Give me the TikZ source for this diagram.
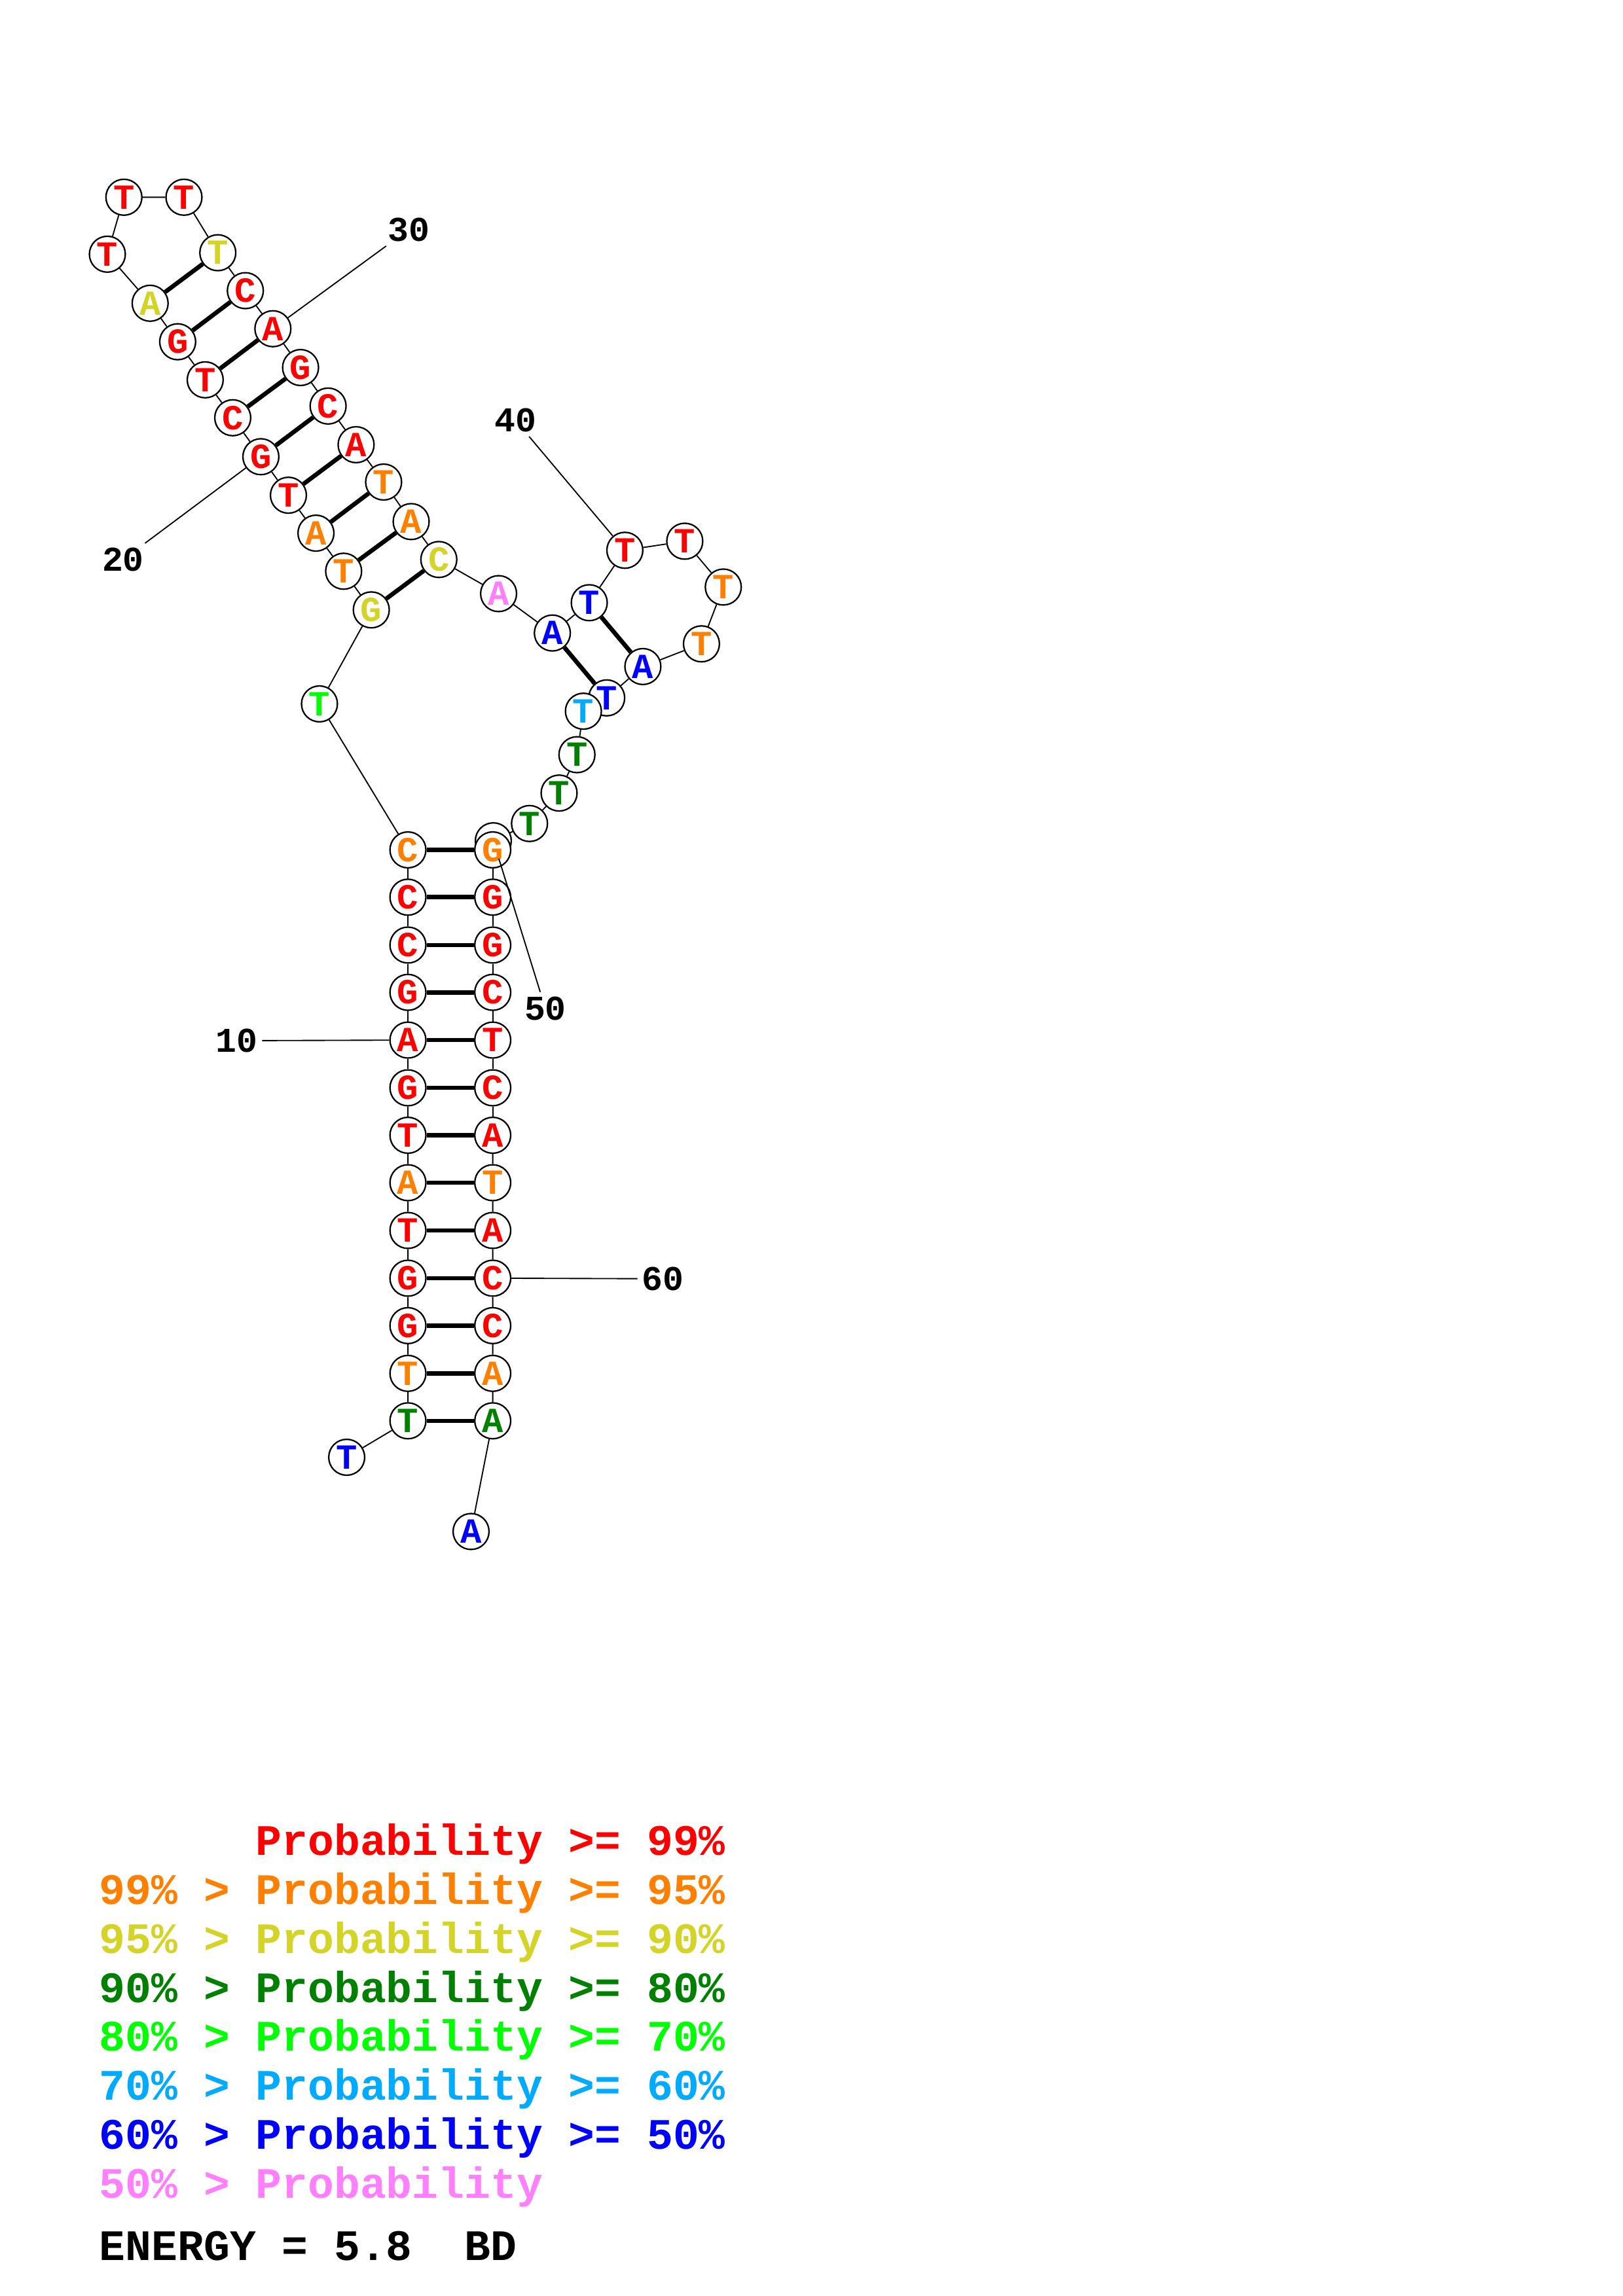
\documentclass[tikz,border=0pt]{standalone}
\usepackage{fontspec}
\usepackage{tikz}
\newfontfamily\cour{Liberation Mono}
\newcommand\ntfont{\cour\bfseries\fontsize{13pt}{13pt}\selectfont}
\newcommand\numfont{\cour\bfseries\fontsize{12.8pt}{13pt}\selectfont}
\newcommand\legfont{\cour\bfseries\fontsize{16pt}{16pt}\selectfont}
\definecolor{pred}{RGB}{255,0,0}
\definecolor{porange}{RGB}{255,128,0}
\definecolor{pyellow}{RGB}{212,212,40}
\definecolor{pdkgreen}{RGB}{0,128,0}
\definecolor{pgreen}{RGB}{0,255,0}
\definecolor{pltblue}{RGB}{0,170,255}
\definecolor{pblue}{RGB}{0,0,255}
\definecolor{ppink}{RGB}{255,128,255}
\begin{document}
\begin{tikzpicture}[x=0.01895cm,y=-0.01895cm,
 nt/.style={circle,draw,fill=white,line width=0.55pt,minimum size=0.465cm,inner sep=0pt,font=\ntfont},
 bb/.style={line width=0.45pt},
 bp/.style={line width=1.6pt},
 num/.style={inner sep=1.5pt,font=\numfont},
 leg/.style={anchor=base west,inner sep=0pt,font=\legfont}]
 \useasboundingbox (0,0) rectangle (1108,1568);
 \node[nt,text=pblue] (n1) at (236.7,995.2) {T};
 \node[nt,text=pdkgreen] (n2) at (278.5,970.3) {T};
 \node[nt,text=porange] (n3) at (278.5,937.9) {T};
 \node[nt,text=pred] (n4) at (278.5,905.3) {G};
 \node[nt,text=pred] (n5) at (278.5,872.9) {G};
 \node[nt,text=pred] (n6) at (278.5,840.3) {T};
 \node[nt,text=porange] (n7) at (278.5,807.7) {A};
 \node[nt,text=pred] (n8) at (278.5,775.3) {T};
 \node[nt,text=pred] (n9) at (278.5,742.9) {G};
 \node[nt,text=pred] (n10) at (278.5,710.3) {A};
 \node[nt,text=pred] (n11) at (278.5,677.7) {G};
 \node[nt,text=pred] (n12) at (278.5,645.4) {C};
 \node[nt,text=pred] (n13) at (278.5,612.7) {C};
 \node[nt,text=porange] (n14) at (278.5,580.4) {C};
 \node[nt,text=pgreen] (n15) at (218.1,480.7) {T};
 \node[nt,text=pyellow] (n16) at (253.5,416.5) {G};
 \node[nt,text=porange] (n17) at (234.6,390.1) {T};
 \node[nt,text=porange] (n18) at (215.7,364.1) {A};
 \node[nt,text=pred] (n19) at (196.9,338.2) {T};
 \node[nt,text=pred] (n20) at (178.1,311.9) {G};
 \node[nt,text=pred] (n21) at (158.9,285.3) {C};
 \node[nt,text=pred] (n22) at (140.1,259.4) {T};
 \node[nt,text=pred] (n23) at (121.3,233.4) {G};
 \node[nt,text=pyellow] (n24) at (102.5,207.1) {A};
 \node[nt,text=pred] (n25) at (73.3,173.6) {T};
 \node[nt,text=pred] (n26) at (84.6,134.7) {T};
 \node[nt,text=pred] (n27) at (125.6,134.7) {T};
 \node[nt,text=pyellow] (n28) at (148.7,172.6) {T};
 \node[nt,text=pred] (n29) at (167.5,198.5) {C};
 \node[nt,text=pred] (n30) at (186.3,224.5) {A};
 \node[nt,text=pred] (n31) at (205.2,251.0) {G};
 \node[nt,text=pred] (n32) at (224.0,277.3) {C};
 \node[nt,text=pred] (n33) at (243.1,303.7) {A};
 \node[nt,text=porange] (n34) at (261.9,329.2) {T};
 \node[nt,text=porange] (n35) at (280.7,356.2) {A};
 \node[nt,text=pyellow] (n36) at (299.6,382.1) {C};
 \node[nt,text=ppink] (n37) at (340.4,405.4) {A};
 \node[nt,text=pblue] (n38) at (377.1,432.3) {A};
 \node[nt,text=pblue] (n39) at (402.3,411.6) {T};
 \node[nt,text=pred] (n40) at (426.6,375.8) {T};
 \node[nt,text=pred] (n41) at (467.5,369.6) {T};
 \node[nt,text=porange] (n42) at (493.8,400.9) {T};
 \node[nt,text=porange] (n43) at (478.9,439.7) {T};
 \node[nt,text=pblue] (n44) at (438.9,455.2) {A};
 \node[nt,text=pblue] (n45) at (414.2,476.6) {T};
 \node[nt,text=pltblue] (n46) at (398.3,485.7) {T};
 \node[nt,text=pdkgreen] (n47) at (393.9,515.4) {T};
 \node[nt,text=pdkgreen] (n48) at (381.7,541.6) {T};
 \node[nt,text=pdkgreen] (n49) at (361.5,562.4) {T};
 \node[nt] (n50) at (336.8,574.2) {};
 \node[nt,text=porange] (n51) at (336.4,580.4) {G};
 \node[nt,text=pred] (n52) at (336.4,612.7) {G};
 \node[nt,text=pred] (n53) at (336.4,645.4) {G};
 \node[nt,text=pred] (n54) at (336.4,677.7) {C};
 \node[nt,text=pred] (n55) at (336.4,710.3) {T};
 \node[nt,text=pred] (n56) at (336.4,742.9) {C};
 \node[nt,text=pred] (n57) at (336.4,775.3) {A};
 \node[nt,text=porange] (n58) at (336.4,807.7) {T};
 \node[nt,text=pred] (n59) at (336.4,840.3) {A};
 \node[nt,text=pred] (n60) at (336.4,872.9) {C};
 \node[nt,text=pred] (n61) at (336.4,905.3) {C};
 \node[nt,text=porange] (n62) at (336.4,937.9) {A};
 \node[nt,text=pdkgreen] (n63) at (336.4,970.3) {A};
 \node[nt,text=pblue] (n64) at (321.6,1045.9) {A};
 \draw[bb] (n1) -- (n2) (n2) -- (n3) (n3) -- (n4) (n4) -- (n5) (n5) -- (n6) (n6) -- (n7) (n7) -- (n8);
 \draw[bb] (n8) -- (n9) (n9) -- (n10) (n10) -- (n11) (n11) -- (n12) (n12) -- (n13) (n13) -- (n14);
 \draw[bb] (n14) -- (n15) (n15) -- (n16) (n16) -- (n17) (n17) -- (n18) (n18) -- (n19) (n19) -- (n20);
 \draw[bb] (n20) -- (n21) (n21) -- (n22) (n22) -- (n23) (n23) -- (n24) (n24) -- (n25) (n25) -- (n26);
 \draw[bb] (n26) -- (n27) (n27) -- (n28) (n28) -- (n29) (n29) -- (n30) (n30) -- (n31) (n31) -- (n32);
 \draw[bb] (n32) -- (n33) (n33) -- (n34) (n34) -- (n35) (n35) -- (n36) (n36) -- (n37) (n37) -- (n38);
 \draw[bb] (n38) -- (n39) (n39) -- (n40) (n40) -- (n41) (n41) -- (n42) (n42) -- (n43) (n43) -- (n44);
 \draw[bb] (n44) -- (n45) (n46) -- (n47) (n47) -- (n48) (n48) -- (n49) (n49) -- (n50);
 \draw[bb] (n51) -- (n52) (n52) -- (n53) (n53) -- (n54) (n54) -- (n55) (n55) -- (n56) (n56) -- (n57);
 \draw[bb] (n57) -- (n58) (n58) -- (n59) (n59) -- (n60) (n60) -- (n61) (n61) -- (n62) (n62) -- (n63) (n63) -- (n64);
 \draw[bp] (n2) -- (n63) (n3) -- (n62) (n4) -- (n61) (n5) -- (n60) (n6) -- (n59) (n7) -- (n58) (n8) -- (n57);
 \draw[bp] (n9) -- (n56) (n10) -- (n55) (n11) -- (n54) (n12) -- (n53) (n13) -- (n52) (n14) -- (n51);
 \draw[bp] (n16) -- (n36) (n17) -- (n35) (n18) -- (n34) (n19) -- (n33) (n20) -- (n32) (n21) -- (n31);
 \draw[bp] (n22) -- (n30) (n23) -- (n29) (n24) -- (n28) (n38) -- (n45) (n39) -- (n44);
 \node[num] (l10) at (161.6,710.7) {10};
 \node[num] (l20) at (84.0,382.2) {20};
 \node[num] (l30) at (279.0,156.8) {30};
 \node[num] (l40) at (351.8,286.9) {40};
 \node[num] (l50) at (372.3,688.7) {50};
 \node[num] (l60) at (452.6,873.3) {60};
 \draw[bb] (l10) -- (n10);
 \draw[bb] (l20) -- (n20);
 \draw[bb] (l30) -- (n30);
 \draw[bb] (l40) -- (n40);
 \draw[bb] (l50) -- (n50);
 \draw[bb] (l60) -- (n60);
 \node[leg,text=pred] (p1) at (174.3,1266.8) {Probability >= 99\%};
 \node[leg,text=porange] (p2) at (67.5,1300.3) {99\% > Probability >= 95\%};
 \node[leg,text=pyellow] (p3) at (67.5,1333.8) {95\% > Probability >= 90\%};
 \node[leg,text=pdkgreen] (p4) at (67.5,1367.3) {90\% > Probability >= 80\%};
 \node[leg,text=pgreen] (p5) at (67.5,1400.8) {80\% > Probability >= 70\%};
 \node[leg,text=pltblue] (p6) at (67.5,1434.3) {70\% > Probability >= 60\%};
 \node[leg,text=pblue] (p7) at (67.5,1467.8) {60\% > Probability >= 50\%};
 \node[leg,text=ppink] (p8) at (67.5,1501.3) {50\% > Probability};
 \node[leg] (energy) at (67.5,1543.7) {ENERGY = 5.8\ \ BD};
\end{tikzpicture}
\end{document}
